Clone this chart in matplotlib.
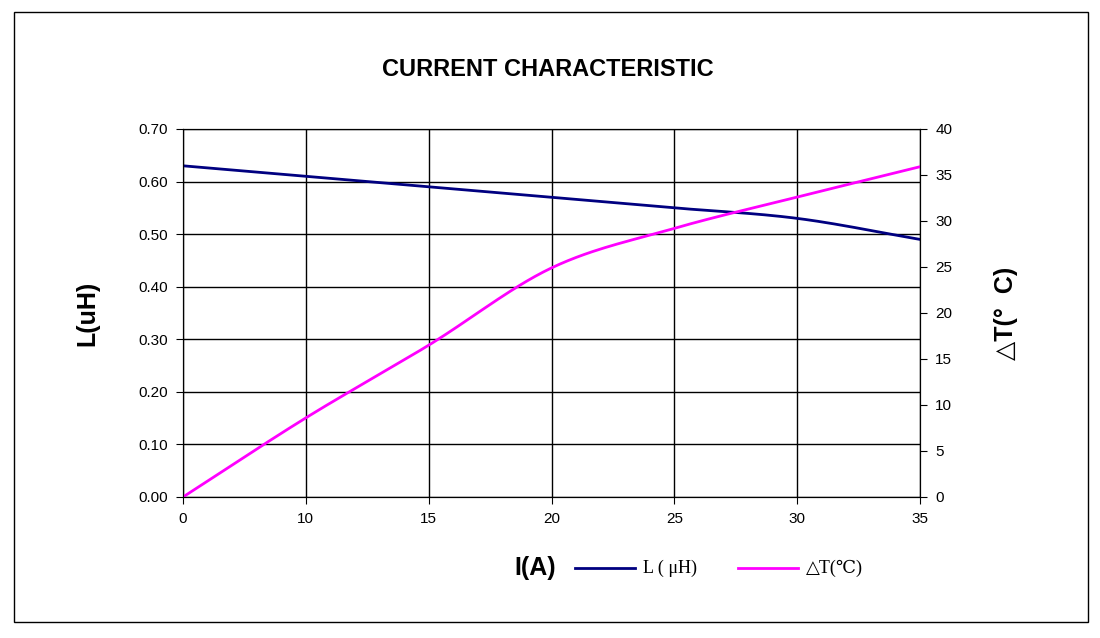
import numpy as np
import matplotlib.pyplot as plt
from matplotlib.patches import Rectangle
from matplotlib.lines import Line2D

plt.rcParams['font.family'] = ['Liberation Sans', 'DejaVu Sans']

categories = ['0', '10', '15', '20', '25', '30', '35']
inductance = [0.63, 0.61, 0.59, 0.57, 0.55, 0.53, 0.49]
delta_t = [0, 8.6, 16.5, 24.9, 29.2, 32.6, 35.9]


def smooth(y, n=30):
    # Catmull-Rom, like Excel's smoothed line
    y = np.asarray(y, float)
    p = np.concatenate([[2 * y[0] - y[1]], y, [2 * y[-1] - y[-2]]])
    xs, ys = [], []
    for i in range(len(y) - 1):
        t = np.linspace(0, 1, n, endpoint=False)
        p0, p1, p2, p3 = p[i], p[i + 1], p[i + 2], p[i + 3]
        ys.append(0.5 * (2 * p1 + (-p0 + p2) * t + (2 * p0 - 5 * p1 + 4 * p2 - p3) * t**2
                         + (-p0 + 3 * p1 - 3 * p2 + p3) * t**3))
        xs.append(i + t)
    xs.append([len(y) - 1]); ys.append([y[-1]])
    return np.concatenate(xs), np.concatenate(ys)


fig = plt.figure(figsize=(11, 6.38), dpi=100)
fig.patches.append(Rectangle((14 / 1100, 1 - 622 / 638), 1074 / 1100, 610 / 638,
                             transform=fig.transFigure, fill=False, ec='black', lw=1))
ax = fig.add_axes([183 / 1100, 1 - 497 / 638, 737 / 1100, 368 / 638])
ax2 = ax.twinx()

x = np.arange(len(categories))
ax.set_xlim(0, len(categories) - 1)
ax.set_ylim(0, 0.7)
ax.set_yticks(np.arange(0, 0.71, 0.1))
ax.set_yticklabels([f'{v:.2f}' for v in np.arange(0, 0.71, 0.1)])
ax.set_xticks(x)
ax.set_xticklabels(categories)
ax.grid(True, color='black', lw=1)
ax2.set_ylim(0, 40)
ax2.set_yticks(range(0, 41, 5))

sx, sy = smooth(inductance)
ax.plot(sx, sy, color='#000080', lw=2)
tx, ty = smooth(delta_t)
ax2.plot(tx, ty, color='#FF00FF', lw=2)

for a in (ax, ax2):
    a.tick_params(labelsize=11, direction='out', length=5, pad=6)
    for s in a.spines.values():
        s.set_color('black')

ax.set_ylabel('L(uH)', fontsize=18, fontweight='bold', labelpad=28)
ax2.set_ylabel('△T(°  C)', fontsize=18, fontweight='bold', rotation=90, labelpad=30)

fig.text(548 / 1100, 1 - 70 / 638, 'CURRENT CHARACTERISTIC', ha='center', va='center',
         fontsize=17, fontweight='bold')
fig.text(535 / 1100, 1 - 568 / 638, 'I(A)', ha='center', va='center', fontsize=18, fontweight='bold')
fig.add_artist(Line2D([575 / 1100, 635 / 1100], [1 - 568 / 638] * 2, color='#000080', lw=2))
fig.text(643 / 1100, 1 - 568 / 638, 'L ( μH)', va='center', fontsize=13,
         family=['Liberation Serif', 'DejaVu Serif'])
fig.add_artist(Line2D([738 / 1100, 798 / 1100], [1 - 568 / 638] * 2, color='#FF00FF', lw=2))
fig.text(806 / 1100, 1 - 568 / 638, '△T(℃)', va='center', fontsize=13,
         family=['Liberation Serif', 'DejaVu Serif', 'Noto Sans CJK SC'])

fig.savefig('out.png', dpi=100)
